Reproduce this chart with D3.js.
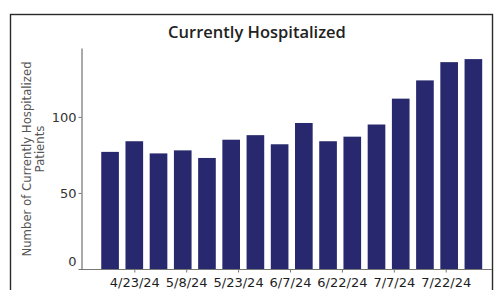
<!DOCTYPE html>
<html>
<head>
<meta charset="utf-8">
<script src="https://cdn.jsdelivr.net/npm/d3@7"></script>
<style>
    body { margin: 0; background: #fff; }
    svg { display: block; }
    svg text { font-family: "DejaVu Sans", sans-serif; }
    svg text.title { font-family: "Open Sans", sans-serif; }
</style>
</head>
<body>
<div id="chartContainer"></div>
<script>

// weekly dates of the bars
const weeks = ['2024-04-16', '2024-04-23', '2024-04-30', '2024-05-07', '2024-05-14', '2024-05-21',
    '2024-05-28', '2024-06-04', '2024-06-11', '2024-06-18', '2024-06-25', '2024-07-02',
    '2024-07-09', '2024-07-16', '2024-07-23', '2024-07-30'];
const hospitalized = [77, 84, 76, 78, 73, 85, 88, 82, 96, 84, 87, 95, 112, 124, 136, 138];

const tickDates = ['2024-04-23', '2024-05-08', '2024-05-23', '2024-06-07', '2024-06-22', '2024-07-07', '2024-07-22'];
const yTicks = [0, 50, 100];

const parseDate = d3.timeParse('%Y-%m-%d');
const data = weeks.map((w, i) => ({ date: parseDate(w), value: hospitalized[i] }));

const width = 494;
const height = 290;

const svg = d3.select('#chartContainer')
    .append('svg')
    .attr('width', width)
    .attr('height', height);

// frame
svg.append('rect')
    .attr('x', 10.5)
    .attr('y', 14.5)
    .attr('width', 482)
    .attr('height', 300)
    .attr('fill', '#fff')
    .attr('stroke', '#2a2a2a')
    .attr('stroke-width', 1.4);

const scaleX = d3.scaleTime()
    .domain([parseDate('2024-04-23'), parseDate('2024-07-22')])
    .range([134.3, 445.7]);

const scaleY = d3.scaleLinear()
    .domain([0, 145.3])
    .range([269, 48]);

const dayPx = scaleX(parseDate('2024-04-24')) - scaleX(parseDate('2024-04-23'));
const barWidth = dayPx * 5.1;

svg.append('g')
    .attr('id', 'bars')
    .selectAll('rect')
    .data(data)
    .enter()
    .append('rect')
    .attr('x', d => scaleX(d.date) - barWidth / 2)
    .attr('y', d => scaleY(d.value))
    .attr('width', barWidth)
    .attr('height', d => scaleY(0) - scaleY(d.value))
    .attr('fill', '#27286d');

// X Axis
const xAxisGenerator = d3.axisBottom(scaleX)
    .tickValues(tickDates.map(parseDate))
    .tickFormat(d3.timeFormat('%-m/%-d/%y'))
    .tickSize(3)
    .tickPadding(5);

const xAxis = svg.append('g')
    .classed('x axis', true)
    .attr('transform', 'translate(0, 269.5)')
    .call(xAxisGenerator);

xAxis.select('.domain').remove();
xAxis.append('line')
    .attr('x1', 81)
    .attr('x2', 492)
    .attr('stroke', '#777');
xAxis.selectAll('.tick line').attr('stroke', '#777');
xAxis.selectAll('text')
    .attr('fill', '#1e1e1e')
    .style('font-size', '13px');

// Y Axis
const yAxisGenerator = d3.axisLeft(scaleY)
    .tickValues(yTicks)
    .tickSize(3)
    .tickSizeOuter(0)
    .tickPadding(2);

const yAxis = svg.append('g')
    .classed('y axis', true)
    .attr('transform', 'translate(81.5, 0)')
    .call(yAxisGenerator);

yAxis.select('.domain').attr('stroke', '#555');
yAxis.selectAll('.tick line').attr('stroke', '#777');
yAxis.selectAll('text')
    .attr('fill', '#333')
    .style('font-size', '13px');

// the zero label sits a bit above the baseline
yAxis.selectAll('.tick')
    .filter(d => d === 0)
    .select('text')
    .attr('dy', '-0.3em');

// title
svg.append('text')
    .classed('title', true)
    .attr('x', 257)
    .attr('y', 38)
    .attr('text-anchor', 'middle')
    .attr('fill', '#222')
    .style('font-weight', 600)
    .style('font-size', '16.5px')
    .text('Currently Hospitalized');

// y axis title
const yTitle = svg.append('g')
    .attr('fill', '#555')
    .style('font-size', '11.7px');

yTitle.append('text')
    .attr('transform', 'translate(31, 159) rotate(-90)')
    .attr('text-anchor', 'middle')
    .text('Number of Currently Hospitalized');

yTitle.append('text')
    .attr('transform', 'translate(44, 149) rotate(-90)')
    .attr('text-anchor', 'middle')
    .text('Patients');

</script>
</body>
</html>
